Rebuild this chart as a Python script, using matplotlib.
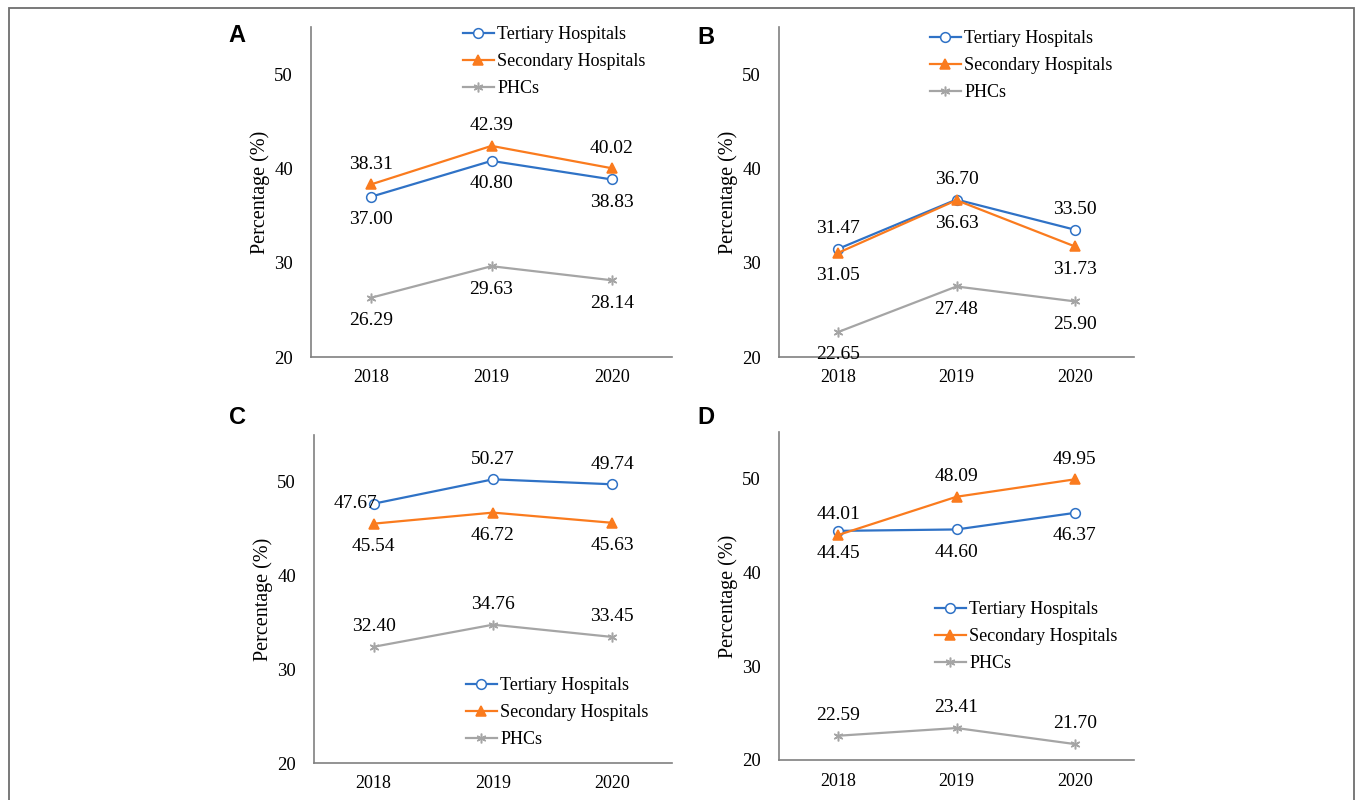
#!/usr/bin/env python3

import numpy as np
import matplotlib
matplotlib.use( 'Agg' )
import matplotlib.pyplot as plt
from matplotlib.patches import Rectangle

plt.rcParams['font.family'] = [ 'Liberation Serif', 'DejaVu Serif' ]

years  = [ '2018', '2019', '2020' ]
series = [ 'Tertiary Hospitals', 'Secondary Hospitals', 'PHCs' ]
panels = [ 'A', 'B', 'C', 'D' ]

tertiary_A  = [ 37.00, 40.80, 38.83 ]
secondary_A = [ 38.31, 42.39, 40.02 ]
phc_A       = [ 26.29, 29.63, 28.14 ]

tertiary_B  = [ 31.47, 36.70, 33.50 ]
secondary_B = [ 31.05, 36.63, 31.73 ]
phc_B       = [ 22.65, 27.48, 25.90 ]

tertiary_C  = [ 47.67, 50.27, 49.74 ]
secondary_C = [ 45.54, 46.72, 45.63 ]
phc_C       = [ 32.40, 34.76, 33.45 ]

tertiary_D  = [ 44.45, 44.60, 46.37 ]
secondary_D = [ 44.01, 48.09, 49.95 ]
phc_D       = [ 22.59, 23.41, 21.70 ]

data = { 'A' : [ tertiary_A, secondary_A, phc_A ],
         'B' : [ tertiary_B, secondary_B, phc_B ],
         'C' : [ tertiary_C, secondary_C, phc_C ],
         'D' : [ tertiary_D, secondary_D, phc_D ] }

# where each data label sits relative to its point
lblpos = { 'A' : [ ['b','b','b'], ['a','a','a'], ['b','b','b'] ],
           'B' : [ ['a','a','a'], ['b','b','b'], ['b','b','b'] ],
           'C' : [ ['l','a','a'], ['b','b','b'], ['a','a','a'] ],
           'D' : [ ['b','b','b'], ['a','a','a'], ['a','a','a'] ] }

col = [ '#2F72C6', '#FA7B1E', '#A5A5A5' ]
mkr = [ 'o', '^', (6, 2, 0) ]
mfc = [ 'white', '#FA7B1E', '#A5A5A5' ]

# axes boxes in pixels: left, right, top, bottom
W, H = 1355., 800.
boxes = { 'A' : ( 311, 672,  27, 357 ),
          'B' : ( 779, 1134, 27, 357 ),
          'C' : ( 314, 672, 435, 763 ),
          'D' : ( 779, 1134, 432, 760 ) }
# legend top-left in pixels
legxy = { 'A' : ( 463, 26 ),
          'B' : ( 930, 30 ),
          'C' : ( 466, 677 ),
          'D' : ( 935, 601 ) }
# panel letter positions
letxy = { 'A' : ( 237, 36 ), 'B' : ( 706, 37 ),
          'C' : ( 237, 418 ), 'D' : ( 706, 418 ) }

fig = plt.figure( figsize = ( W / 100, H / 100 ), dpi = 100 )

fs = 13
x = np.arange( len( years ) )

for p in panels:

    l, r, t, b = boxes[p]
    ax = fig.add_axes( [ l / W, 1 - b / H, ( r - l ) / W, ( b - t ) / H ] )

    for i in range( 3 ):
        y = data[p][i]
        ax.plot( x, y, color = col[i], lw = 1.6, marker = mkr[i],
                 ms = 7, mfc = mfc[i], mec = col[i], mew = 1.1,
                 label = series[i] )
        for j in range( 3 ):
            pos = lblpos[p][i][j]
            if pos == 'a':
                off = ( 0, 14.5 )
            elif pos == 'b':
                off = ( 0, -16.5 )
            else:
                off = ( -13, 0 )
            ax.annotate( '{:.2f}'.format( y[j] ), ( x[j], y[j] ),
                         xytext = off, textcoords = 'offset points',
                         ha = 'center', va = 'center', fontsize = 14 )

    ax.set_xlim( -0.5, 2.5 )
    ax.set_ylim( 20, 55 )
    ax.set_yticks( [ 20, 30, 40, 50 ] )
    ax.set_xticks( x )
    ax.set_xticklabels( years )
    ax.tick_params( length = 0, labelsize = fs )
    ax.tick_params( axis = 'y', pad = 13, labelsize = 13.5 )
    ax.tick_params( axis = 'x', pad = 9 )
    for s in [ 'top', 'right' ]:
        ax.spines[s].set_visible( False )
    for s in [ 'left', 'bottom' ]:
        ax.spines[s].set_color( '#808080' )
        ax.spines[s].set_linewidth( 1.2 )
    ax.set_ylabel( 'Percentage (%)', fontsize = 14.5, labelpad = 3 )

    lx, ly = legxy[p]
    ax.legend( loc = 'upper left', bbox_to_anchor = ( lx / W, 1 - ly / H ),
               bbox_transform = fig.transFigure, frameon = False,
               fontsize = fs, handlelength = 1.7, handletextpad = 0.2,
               labelspacing = 0.55, borderpad = 0, borderaxespad = 0 )

    fx, fy = letxy[p]
    fig.text( fx / W, 1 - fy / H, p, ha = 'center', va = 'center',
              fontsize = 17, fontweight = 'bold',
              family = 'Liberation Sans' )

# outer frame
fig.patches.append( Rectangle( ( 9 / W, -0.02 ), 1345 / W, 1.02 - 8 / H,
                               transform = fig.transFigure, fill = False,
                               ec = '#6E6E6E', lw = 1.3 ) )

plt.savefig( 'out.png', dpi = 100 )
plt.close()
